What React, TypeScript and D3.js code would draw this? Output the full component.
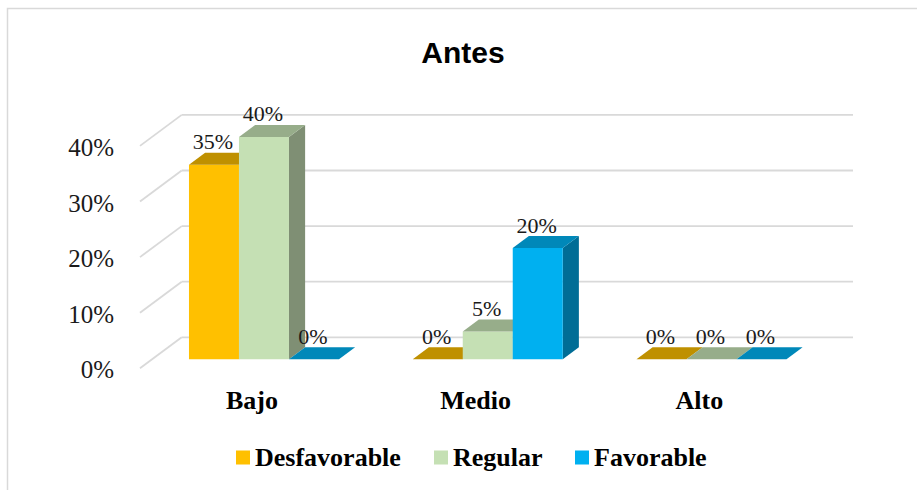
import React from "react";
import * as d3 from "d3";

const categories = ["Bajo", "Medio", "Alto"];
const seriesNames = ["Desfavorable", "Regular", "Favorable"];
const desfavorable = [0.35, 0, 0];
const regular = [0.4, 0.05, 0];
const favorable = [0, 0.2, 0];
const yTicks = [0, 0.1, 0.2, 0.3, 0.4];
const title = "Antes";

const frontColors = ["#FFC000", "#C5E0B4", "#00B0F0"];
const topColors = ["#BF9000", "#97AD8A", "#0088B9"];
const sideColors = ["#9E7700", "#7F8F74", "#006D96"];

const SERIF = "'Times New Roman', 'Liberation Serif', Tinos, 'DejaVu Serif', serif";

const W = 917;
const H = 490;
// 3D geometry
const DX = 41.7;
const DY = 31;
const F1 = 0.29;
const F2 = 0.677;

export default function App() {
  const seriesValues = [desfavorable, regular, favorable];
  const x0 = d3.scaleBand<string>().domain(categories).range([140, 811.3]).padding(0);
  const groupW = 150;
  const x1 = d3.scaleBand<string>().domain(seriesNames).range([0, groupW]).padding(0);
  // front-plane y scale
  const y = d3.scaleLinear().domain([0, 0.4]).range([368.3, 368.3 - 222.4]);
  const fmt = d3.format(".0%");

  const proj = (px: number, py: number, f: number): [number, number] => [px + f * DX, py - f * DY];
  const poly = (pts: [number, number][]) => pts.map((p) => p.join(",")).join(" ");

  const bars: React.ReactNode[] = [];
  const labels: React.ReactNode[] = [];
  categories.forEach((c, ci) => {
    const gx = (x0(c) as number) + (x0.bandwidth() - groupW) / 2;
    seriesNames.forEach((s, si) => {
      const v = seriesValues[si][ci];
      const xl = gx + (x1(s) as number);
      const xr = xl + x1.bandwidth();
      const yb = y(0);
      const yt = y(v);
      const fbl = proj(xl, yb, F1);
      const fbr = proj(xr, yb, F1);
      const ftl = proj(xl, yt, F1);
      const ftr = proj(xr, yt, F1);
      const btl = proj(xl, yt, F2);
      const btr = proj(xr, yt, F2);
      const bbr = proj(xr, yb, F2);
      const key = `${ci}-${si}`;
      bars.push(
        <g key={key}>
          <polygon points={poly([fbr, ftr, btr, bbr])} fill={sideColors[si]} />
          <polygon points={poly([fbl, fbr, ftr, ftl])} fill={frontColors[si]} />
          <polygon points={poly([ftl, ftr, btr, btl])} fill={topColors[si]} />
        </g>
      );
      labels.push(
        <text
          key={"l" + key}
          x={(ftl[0] + ftr[0]) / 2 - 1}
          y={btl[1] - 3.5}
          textAnchor="middle"
          fontFamily={SERIF}
          fontSize={22}
          fill="#1a1a1a"
        >
          {fmt(v)}
        </text>
      );
    });
  });

  const xFrontL = 140;
  const xFrontR = 811.3;

  return (
    <svg
      width={W}
      height={H}
      style={{ position: "absolute", left: 0, top: 0, background: "#fff" }}
    >
      <rect x={0} y={0} width={W} height={H} fill="#fff" />
      <rect x={7.5} y={8.5} width={W + 20} height={H + 20} fill="none" stroke="#D9D9D9" strokeWidth={1.5} />
      <text
        x={463}
        y={63}
        textAnchor="middle"
        fontFamily="'Liberation Sans', Arial, sans-serif"
        fontWeight="bold"
        fontSize={30}
        fill="#000"
      >
        {title}
      </text>
      {/* gridlines: side wall diagonals + back wall */}
      {yTicks.map((t) => {
        const [bx, by] = proj(xFrontL, y(t), 1);
        const [ex] = proj(xFrontR, y(t), 1);
        return (
          <g key={"g" + t}>
            <line x1={xFrontL} y1={y(t)} x2={bx} y2={by} stroke="#D9D9D9" strokeWidth={1.8} />
            <line x1={bx} y1={by} x2={ex} y2={by} stroke="#D9D9D9" strokeWidth={1.8} />
          </g>
        );
      })}
      {yTicks.map((t) => (
        <text
          key={"t" + t}
          x={114}
          y={y(t) + 10}
          textAnchor="end"
          fontFamily={SERIF}
          fontSize={25}
          fill="#1a1a1a"
        >
          {fmt(t)}
        </text>
      ))}
      {bars}
      {labels}
      {categories.map((c) => (
        <text
          key={"c" + c}
          x={(x0(c) as number) + x0.bandwidth() / 2}
          y={409}
          textAnchor="middle"
          fontFamily={SERIF}
          fontWeight="bold"
          fontSize={26}
          fill="#000"
        >
          {c}
        </text>
      ))}
      {/* legend */}
      {seriesNames.map((s, i) => {
        const sq = [236, 434, 575][i];
        return (
          <g key={"lg" + s}>
            <rect x={sq} y={450.5} width={14} height={14} fill={frontColors[i]} />
            <text
              x={sq + 19}
              y={466}
              fontFamily={SERIF}
              fontWeight="bold"
              fontSize={26}
              fill="#000"
            >
              {s}
            </text>
          </g>
        );
      })}
    </svg>
  );
}
